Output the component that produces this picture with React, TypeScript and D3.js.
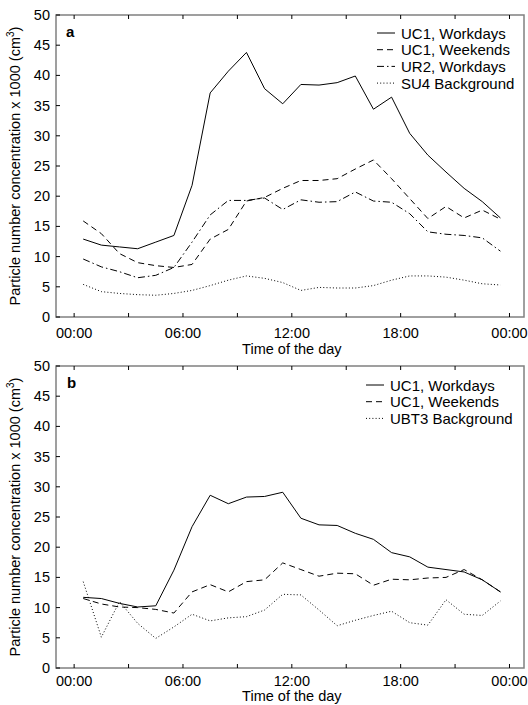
import React from 'react';
import * as d3 from 'd3';

// hour of day at which each value was recorded (mid-hour)
const hours = [0.5, 1.5, 2.5, 3.5, 4.5, 5.5, 6.5, 7.5, 8.5, 9.5, 10.5, 11.5,
  12.5, 13.5, 14.5, 15.5, 16.5, 17.5, 18.5, 19.5, 20.5, 21.5, 22.5, 23.5];

// panel a
const ucWorkA = [12.9, 11.9, 11.6, 11.3, 12.4, 13.5, 21.8, 37.1, 40.7, 43.8, 37.8, 35.3,
  38.5, 38.4, 38.8, 39.9, 34.4, 36.4, 30.4, 26.8, 24.0, 21.3, 19.1, 16.4];
const ucWeekA = [15.9, 13.8, 10.5, 9.0, 8.5, 8.2, 8.7, 12.9, 14.5, 19.2, 19.8, 21.3,
  22.6, 22.6, 22.9, 24.5, 26.0, 22.9, 19.6, 16.3, 18.3, 16.4, 17.7, 16.2];
const ur2WorkA = [9.6, 8.3, 7.5, 6.5, 6.9, 8.2, 12.4, 16.9, 19.3, 19.3, 19.7, 17.8,
  19.4, 19.0, 19.1, 20.7, 19.2, 19.0, 17.1, 14.1, 13.7, 13.5, 13.1, 10.9];
const su4BgA = [5.4, 4.2, 3.9, 3.7, 3.6, 3.9, 4.4, 5.2, 6.1, 6.8, 6.4, 5.7,
  4.4, 4.9, 4.8, 4.8, 5.2, 6.1, 6.8, 6.8, 6.6, 6.1, 5.5, 5.3];

// panel b
const ucWorkB = [11.7, 11.5, 10.7, 10.1, 10.3, 16.2, 23.4, 28.6, 27.2, 28.3, 28.4, 29.1,
  24.8, 23.7, 23.6, 22.3, 21.3, 19.1, 18.4, 16.7, 16.3, 15.9, 14.6, 12.6];
const ucWeekB = [11.5, 10.6, 10.1, 10.0, 9.7, 9.1, 12.6, 13.8, 12.6, 14.3, 14.6, 17.4,
  16.3, 15.2, 15.7, 15.6, 13.7, 14.7, 14.6, 14.9, 15.0, 16.3, 14.6, 12.6];
const ubt3BgB = [14.3, 5.1, 11.0, 7.4, 4.9, 6.8, 8.9, 7.8, 8.3, 8.5, 9.6, 12.2,
  12.1, 9.6, 7.0, 7.9, 8.7, 9.4, 7.5, 7.1, 11.3, 8.9, 8.7, 11.1];

const xTicks = [0, 3, 6, 9, 12, 15, 18, 21, 24];
const xTickLabels: Record<number, string> = { 0: '00:00', 6: '06:00', 12: '12:00', 18: '18:00', 24: '00:00' };
const yTicks = [0, 5, 10, 15, 20, 25, 30, 35, 40, 45, 50];

const FONT = '"Liberation Sans", Arial, sans-serif';
const AXIS_COLOR = '#808080';

type Series = { name: string; values: number[]; dash: string };

const seriesA: Series[] = [
  { name: 'UC1, Workdays', values: ucWorkA, dash: 'none' },
  { name: 'UC1, Weekends', values: ucWeekA, dash: '6,4' },
  { name: 'UR2, Workdays', values: ur2WorkA, dash: '7,3,1.5,3' },
  { name: 'SU4 Background', values: su4BgA, dash: '1,2.2' },
];

const seriesB: Series[] = [
  { name: 'UC1, Workdays', values: ucWorkB, dash: 'none' },
  { name: 'UC1, Weekends', values: ucWeekB, dash: '6,4' },
  { name: 'UBT3 Background', values: ubt3BgB, dash: '1,2.2' },
];

const left = 56;
const right = 524;

type PanelProps = {
  top: number; bottom: number; series: Series[]; letter: string;
  legendX: number; legendY: number; letterX: number; tickOffset: number; titleOffset: number;
};

const Panel = ({ top, bottom, series, letter, legendX, legendY, letterX, tickOffset, titleOffset }: PanelProps) => {
  const x = d3.scaleLinear().domain([-1, 24.8]).range([left, right]);
  const y = d3.scaleLinear().domain([0, 50]).range([bottom, top]);
  const line = d3.line<number>().x((_, i) => x(hours[i])).y(d => y(d));
  const midY = (top + bottom) / 2;

  return (
    <g>
      {/* frame */}
      <rect x={left} y={top} width={right - left} height={bottom - top}
        fill="none" stroke={AXIS_COLOR} strokeWidth={1.5} />

      {/* x ticks, inward on top and bottom */}
      {xTicks.map(t => (
        <g key={'xt' + t}>
          <line x1={x(t)} x2={x(t)} y1={bottom} y2={bottom - 4} stroke="#000" strokeWidth={1} />
          <line x1={x(t)} x2={x(t)} y1={top} y2={top + 4} stroke="#000" strokeWidth={1} />
          {xTickLabels[t] && (
            <text x={x(t)} y={bottom + tickOffset} textAnchor="middle" fontSize={14.5} fontFamily={FONT}>
              {xTickLabels[t]}
            </text>
          )}
        </g>
      ))}

      {/* y ticks */}
      {yTicks.map(t => (
        <g key={'yt' + t}>
          <line x1={left} x2={left + 4} y1={y(t)} y2={y(t)} stroke="#000" strokeWidth={1} />
          <text x={left - 6} y={y(t) + 5} textAnchor="end" fontSize={14.5} fontFamily={FONT}>{t}</text>
        </g>
      ))}

      <text x={(x(0) + x(24)) / 2} y={bottom + titleOffset} textAnchor="middle" fontSize={14.5} fontFamily={FONT}>
        Time of the day
      </text>

      <text transform={`translate(20,${midY}) rotate(-90)`} textAnchor="middle" fontSize={14.5} fontFamily={FONT}>
        Particle number concentration x 1000 (cm<tspan fontSize={10} dy={-6}>3</tspan><tspan dy={6}>)</tspan>
      </text>

      <text x={letterX} y={top + 22} fontSize={15} fontWeight="bold" fontFamily={FONT}>{letter}</text>

      {/* lines */}
      {series.map(s => (
        <path key={s.name} d={line(s.values) || ''} fill="none" stroke="#000"
          strokeWidth={1} strokeDasharray={s.dash === 'none' ? undefined : s.dash} />
      ))}

      {/* legend */}
      {series.map((s, i) => (
        <g key={'lg' + s.name} transform={`translate(${legendX},${legendY + i * 16.7})`}>
          <line x1={0} x2={18} y1={0} y2={0} stroke="#000" strokeWidth={1}
            strokeDasharray={s.dash === 'none' ? undefined : s.dash} />
          <text x={24} y={5.5} fontSize={15} fontFamily={FONT}>{s.name}</text>
        </g>
      ))}
    </g>
  );
};

export default function App() {
  return (
    <div style={{ position: 'absolute', left: 0, top: 0 }}>
      <svg width={528} height={705} style={{ display: 'block', background: '#fff' }}>
        <Panel top={15} bottom={317} series={seriesA} letter="a" letterX={66} legendX={377} legendY={33}
          tickOffset={21} titleOffset={37} />
        <Panel top={366} bottom={668} series={seriesB} letter="b" letterX={67} legendX={366} legendY={385}
          tickOffset={18} titleOffset={33} />
      </svg>
    </div>
  );
}
